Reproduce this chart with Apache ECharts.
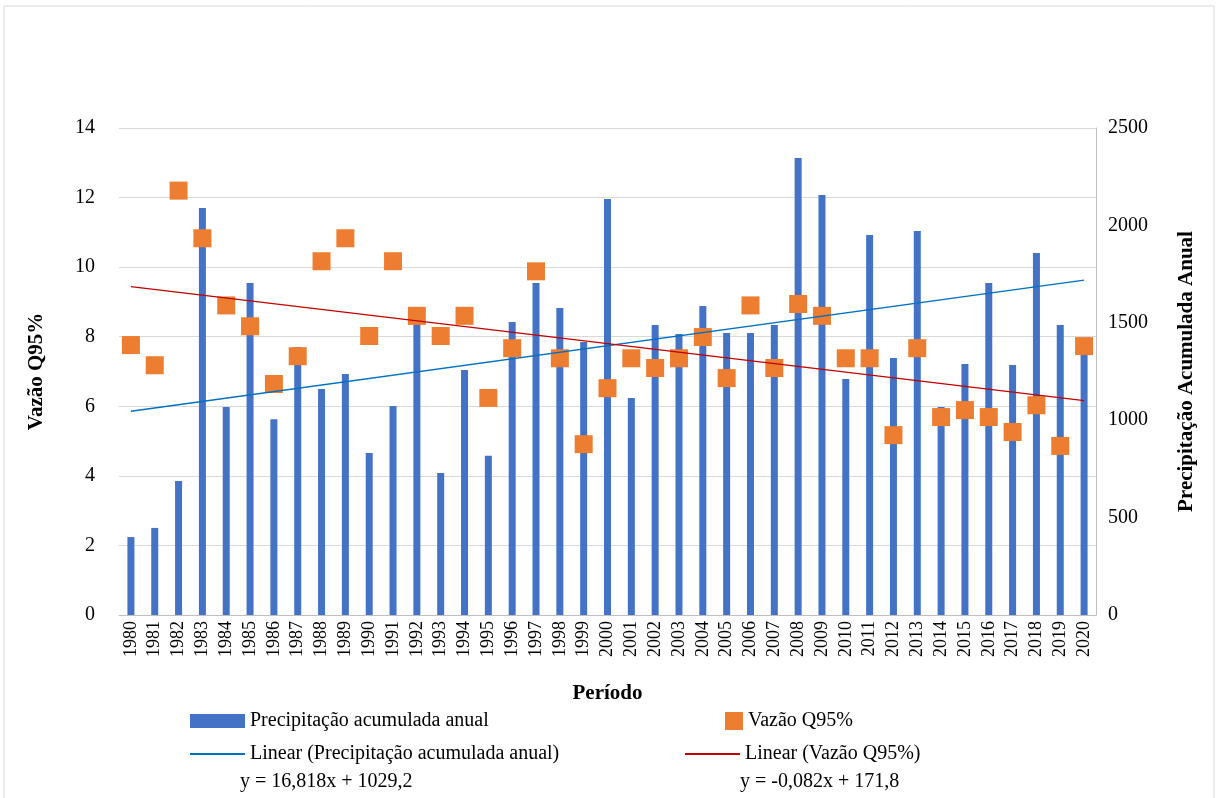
<!DOCTYPE html>
<html><head><meta charset="utf-8">
<script src="https://cdn.jsdelivr.net/npm/echarts@6/dist/echarts.min.js"></script>
<style>html,body{margin:0;padding:0;background:#fff}#c{width:1221px;height:798px}</style>
</head><body><div id="c"></div>
<script>
const years = [];
for (let y = 1980; y <= 2020; y++) years.push(String(y));
const precip = [400,447,688,2089,1068,1704,1005,1376,1160,1237,832,1073,1504,729,1258,818,1504,1704,1576,1401,2136,1114,1489,1442,1586,1448,1448,1489,2346,2156,1211,1951,1319,1971,1068,1289,1704,1283,1858,1489,1335];
const vazao = [7.76,7.18,12.2,10.83,8.9,8.3,6.64,7.44,10.17,10.83,8.02,10.17,8.6,8.02,8.6,6.24,7.67,9.88,7.38,4.91,6.52,7.38,7.1,7.38,7.99,6.81,8.9,7.1,8.94,8.6,7.38,7.38,5.17,7.67,5.69,5.89,5.69,5.26,6.03,4.86,7.73];
// trendline coefficients as printed on the chart
const precipTrend = {a:16.818, b:1029.2};
const vazaoTrend = {a:-0.082, b:171.8};
const precipLine = years.map((y,i)=> i===0||i===years.length-1 ? +(precipTrend.a*(i+1)+precipTrend.b).toFixed(1) : null);
const vazaoLine = years.map((y,i)=> i===0||i===years.length-1 ? +(vazaoTrend.a*(+y)+vazaoTrend.b).toFixed(3) : null);

const F = 'Liberation Serif, Times New Roman, serif';
const chart = echarts.init(document.getElementById('c'));
const lg = (name, left, top, w, h) => ({
  data:[{name, icon:'rect'}], left, top, itemWidth:w, itemHeight:h, itemGap:0,
  textStyle:{fontFamily:F, fontSize:20, color:'#000'}, selectedMode:false
});
chart.setOption({
  animation:false,
  textStyle:{fontFamily:F},
  graphic:[
    {type:'rect', shape:{x:4,y:6,width:1210,height:800}, style:{fill:'none',stroke:'#d9d9d9',lineWidth:1}},
    {type:'text', left:240, top:772, style:{text:'y = 16,818x + 1029,2', font:'20px '+F, fill:'#000'}},
    {type:'text', left:740, top:772, style:{text:'y = -0,082x + 171,8', font:'20px '+F, fill:'#000'}}
  ],
  legend:[
    lg('Precipitação acumulada anual',185,706,55,14),
    lg('Vazão Q95%',720,706,18,18),
    lg('Linear (Precipitação acumulada anual)',185,739,55,2),
    lg('Linear (Vazão Q95%)',680,739,55,2)
  ],
  grid:{left:119,right:125,top:128,bottom:183},
  xAxis:{type:'category', data:years, name:'Período', nameLocation:'middle', nameGap:68,
    nameTextStyle:{fontFamily:F,fontSize:21,fontWeight:'bold',color:'#000'},
    axisLine:{lineStyle:{color:'#bfbfbf'}}, axisTick:{show:false},
    axisLabel:{rotate:90, interval:0, fontFamily:F, fontSize:18, color:'#000', margin:6}},
  yAxis:[
    {type:'value', min:0, max:14, interval:2, name:'Vazão Q95%', nameLocation:'middle', nameGap:72,
     nameTextStyle:{fontFamily:F,fontSize:21,fontWeight:'bold',color:'#000'},
     axisLabel:{fontFamily:F,fontSize:20,color:'#000',margin:24},
     axisLine:{show:false}, axisTick:{show:false}, splitLine:{lineStyle:{color:'#d9d9d9'}}},
    {type:'value', min:0, max:2500, interval:500, name:'Precipitação Acumulada Anual', nameLocation:'middle', nameGap:80,
     nameTextStyle:{fontFamily:F,fontSize:21,fontWeight:'bold',color:'#000'},
     axisLabel:{fontFamily:F,fontSize:20,color:'#000',margin:12, formatter:v=>String(v)},
     axisLine:{show:true,lineStyle:{color:'#bfbfbf'}}, axisTick:{show:false}, splitLine:{show:false}}
  ],
  series:[
    {name:'Precipitação acumulada anual', type:'bar', yAxisIndex:1, data:precip, barWidth:7,
     itemStyle:{color:'#4472c4'}},
    {name:'Vazão Q95%', type:'scatter', yAxisIndex:0, data:vazao, symbol:'rect', symbolSize:18,
     itemStyle:{color:'#ed7d31', opacity:1}, z:5},
    {name:'Linear (Precipitação acumulada anual)', type:'line', yAxisIndex:1, data:precipLine, connectNulls:true,
     symbol:'none', lineStyle:{color:'#0070c0',width:1.3}, itemStyle:{color:'#0070c0'}, z:6},
    {name:'Linear (Vazão Q95%)', type:'line', yAxisIndex:0, data:vazaoLine, connectNulls:true,
     symbol:'none', lineStyle:{color:'#c00000',width:1.3}, itemStyle:{color:'#c00000'}, z:6}
  ]
});
</script></body></html>
